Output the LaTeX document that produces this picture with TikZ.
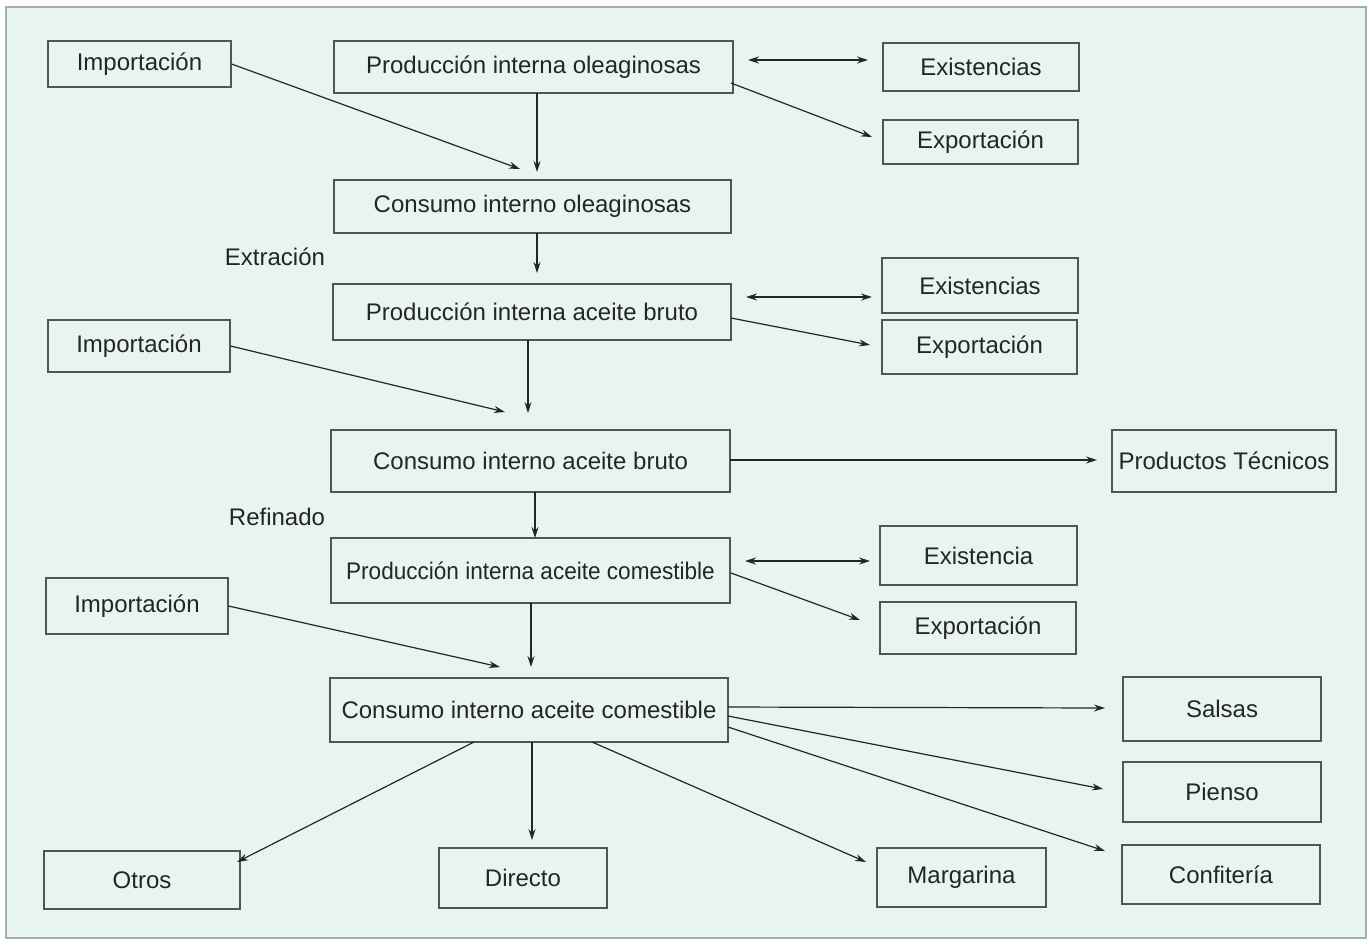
\documentclass[tikz,border=0pt]{standalone}
\usepackage{fontspec}
\setmainfont{Liberation Sans}
\usetikzlibrary{arrows.meta}
\definecolor{bgmint}{HTML}{EAF4EE}
\definecolor{framec}{HTML}{9DB3A6}
\definecolor{inkc}{HTML}{222624}
\definecolor{boxline}{HTML}{505653}
\begin{document}
\begin{tikzpicture}[x=1pt,y=-1pt,
  box/.style={draw=boxline, line width=1.1pt, inner sep=0pt, align=center,
    font=\fontsize{24}{28}\selectfont, text=inkc},
  lbl/.style={inner sep=0pt, font=\fontsize{24}{28}\selectfont, text=inkc},
  arr/.style={draw=inkc, line width=1.2pt, -{Stealth[length=11pt,width=7pt]}},
  darr/.style={draw=inkc, line width=1.2pt, {Stealth[length=11pt,width=7pt]}-{Stealth[length=11pt,width=7pt]}}]
\useasboundingbox (0,0) rectangle (1372,946);
\fill[white] (0,0) rectangle (1372,946);
\draw[fill=bgmint, draw=framec, line width=1.5pt] (6,7) rectangle (1366,938);

% boxes
\node[box, minimum width=183pt, minimum height=46pt] (imp1) at (139.5,64) {Importación};
\node[box, minimum width=399pt, minimum height=52pt] (prodole) at (533.5,67) {Producción interna oleaginosas};
\node[box, minimum width=196pt, minimum height=48pt] (exist1) at (981,67) {Existencias};
\node[box, minimum width=195pt, minimum height=44pt] (export1) at (980.5,142) {Exportación};
\node[box, minimum width=397pt, minimum height=53pt] (console) at (532.5,206.5) {Consumo interno oleaginosas};
\node[box, minimum width=196pt, minimum height=55pt] (exist2) at (980,285.5) {Existencias};
\node[box, minimum width=398pt, minimum height=56pt] (prodbruto) at (532,312) {Producción interna aceite bruto};
\node[box, minimum width=195pt, minimum height=54pt] (export2) at (979.5,347) {Exportación};
\node[box, minimum width=182pt, minimum height=52pt] (imp2) at (139,346) {Importación};
\node[box, minimum width=399pt, minimum height=62pt] (consbruto) at (530.5,461) {Consumo interno aceite bruto};
\node[box, minimum width=224pt, minimum height=62pt] (prodtec) at (1224,461) {Productos Técnicos};
\node[box, minimum width=197pt, minimum height=59pt] (exist3) at (978.5,555.5) {Existencia};
\node[box, minimum width=399pt, minimum height=65pt] (prodcom) at (530.5,570.5) {\scalebox{0.94}[1]{Producción interna aceite comestible}};
\node[box, minimum width=196pt, minimum height=52pt] (export3) at (978,628) {Exportación};
\node[box, minimum width=182pt, minimum height=56pt] (imp3) at (137,606) {Importación};
\node[box, minimum width=398pt, minimum height=64pt] (conscom) at (529,710) {Consumo interno aceite comestible};
\node[box, minimum width=198pt, minimum height=64pt] (salsas) at (1222,709) {Salsas};
\node[box, minimum width=198pt, minimum height=60pt] (pienso) at (1222,792) {Pienso};
\node[box, minimum width=198pt, minimum height=59pt] (confit) at (1221,874.5) {Confitería};
\node[box, minimum width=196pt, minimum height=58pt] (otros) at (142,880) {Otros};
\node[box, minimum width=168pt, minimum height=60pt] (directo) at (523,878) {Directo};
\node[box, minimum width=169pt, minimum height=59pt] (margarina) at (961.5,877.5) {Margarina};

% labels
\node[lbl] (extr) at (275,257) {Extración};
\node[lbl] (refi) at (277,517) {Refinado};

% connector end points
\coordinate (e1) at (520,169);
\coordinate (s2) at (537,93);   \coordinate (e2) at (537,172);
\coordinate (s3) at (748,60);   \coordinate (e3) at (868,60);
\coordinate (s4) at (731,83);   \coordinate (e4) at (872,137);
\coordinate (s5) at (537,233);  \coordinate (e5) at (537,273);
\coordinate (s6) at (746,297);  \coordinate (e6) at (872,297);
\coordinate (s7) at (731,318);  \coordinate (e7) at (870,345);
\coordinate (s8) at (528,340);  \coordinate (e8) at (528,413);
\coordinate (e9) at (505,412);
\coordinate (s10) at (730,460); \coordinate (e10) at (1097,460);
\coordinate (s11) at (535,492); \coordinate (e11) at (535,538);
\coordinate (s12) at (745,561); \coordinate (e12) at (870,561);
\coordinate (s13) at (731,573); \coordinate (e13) at (860,620);
\coordinate (s14) at (531,603); \coordinate (e14) at (531,667);
\coordinate (e15) at (500,667);
\coordinate (s16) at (728,707); \coordinate (e16) at (1105,708);
\coordinate (s17) at (728,716); \coordinate (e17) at (1103,789);
\coordinate (s18) at (728,727); \coordinate (e18) at (1105,851);
\coordinate (s19) at (592,742); \coordinate (e19) at (866,862);
\coordinate (s20) at (532,742); \coordinate (e20) at (532,840);
\coordinate (s21) at (474,742); \coordinate (e21) at (237,862);

% connectors
\draw[arr] (imp1.east) -- (e1);
\draw[arr] (s2) -- (e2);
\draw[darr] (s3) -- (e3);
\draw[arr] (s4) -- (e4);
\draw[arr] (s5) -- (e5);
\draw[darr] (s6) -- (e6);
\draw[arr] (s7) -- (e7);
\draw[arr] (s8) -- (e8);
\draw[arr] (imp2.east) -- (e9);
\draw[arr] (s10) -- (e10);
\draw[arr] (s11) -- (e11);
\draw[darr] (s12) -- (e12);
\draw[arr] (s13) -- (e13);
\draw[arr] (s14) -- (e14);
\draw[arr] (imp3.east) -- (e15);
\draw[arr] (s16) -- (e16);
\draw[arr] (s17) -- (e17);
\draw[arr] (s18) -- (e18);
\draw[arr] (s19) -- (e19);
\draw[arr] (s20) -- (e20);
\draw[arr] (s21) -- (e21);
\end{tikzpicture}
\end{document}
